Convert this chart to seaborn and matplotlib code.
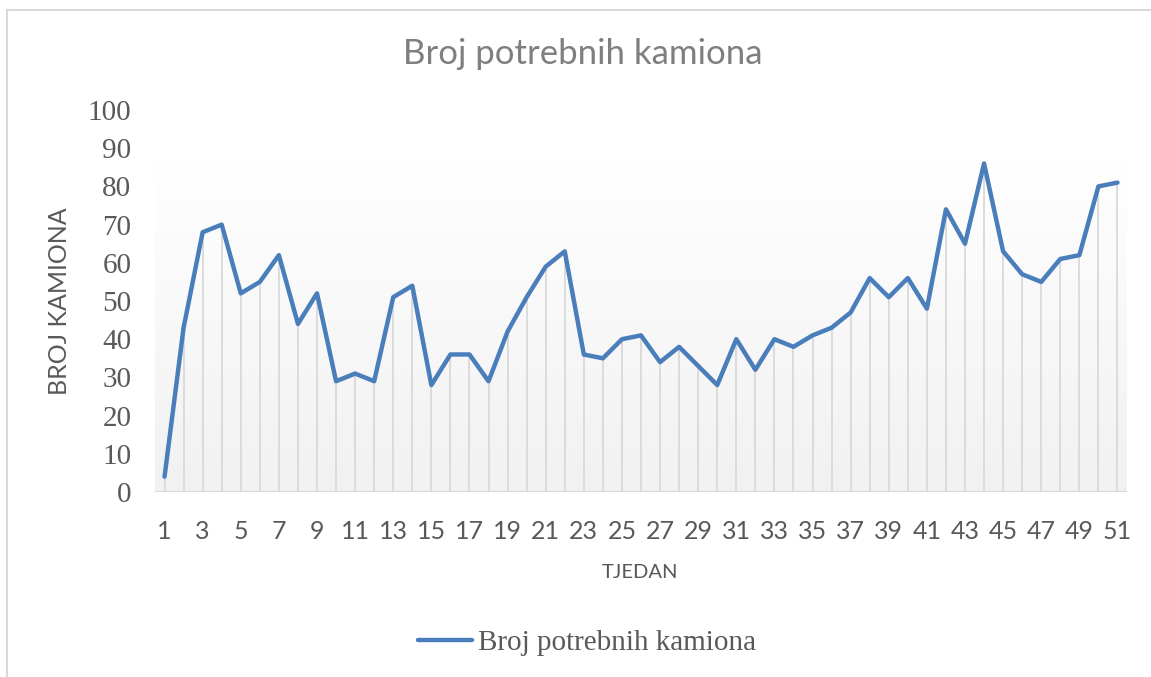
import numpy as np
import pandas as pd
import seaborn as sns
import matplotlib.pyplot as plt
from matplotlib.colors import LinearSegmentedColormap
from matplotlib.lines import Line2D

# data
weeks = list(range(1, 52))
trucks = [4, 43, 68, 70, 52, 55, 62, 44, 52, 29, 31, 29, 51, 54, 28, 36, 36, 29, 42, 51,
          59, 63, 36, 35, 40, 41, 34, 38, 33, 28, 40, 32, 40, 38, 41, 43, 47, 56, 51, 56,
          48, 74, 65, 86, 63, 57, 55, 61, 62, 80, 81]
y_ticks = list(range(0, 101, 10))
x_ticklabels = [str(w) for w in weeks if w % 2 == 1]

df = pd.DataFrame({"TJEDAN": weeks, "Broj potrebnih kamiona": trucks})

sns.set_theme(style="white")
plt.rcParams['font.family'] = ['Lato', 'DejaVu Sans']

W, H = 1151, 677
fig = plt.figure(figsize=(W / 100, H / 100), dpi=100)
ax = fig.add_axes([155 / W, 1 - 492 / H, (1127 - 155) / W, (492 - 110) / H])
ax.set_facecolor("none")

# plot area gradient (Excel style), stops below the top tick
grad = np.linspace(1, 0, 256).reshape(-1, 1)
cmap = LinearSegmentedColormap.from_list("g", ["#f1f1f1", "#ffffff"])
ax.imshow(grad, extent=[0.5, 51.5, 0, 87], aspect="auto", cmap=cmap,
          origin="upper", zorder=0, interpolation="bilinear")

# drop lines
ax.vlines(df["TJEDAN"], 0, df["Broj potrebnih kamiona"], color="#d9d9d9", lw=1.3, zorder=1)

sns.lineplot(data=df, x="TJEDAN", y="Broj potrebnih kamiona", ax=ax,
             color="#4a7ebb", lw=3.2, zorder=3, legend=False)

ax.axhline(0, color="#d9d9d9", lw=1.6, zorder=2)

ax.set_xlim(0.5, 51.5)
ax.set_ylim(0, 100)
ax.set_yticks(y_ticks)
ax.set_yticklabels([str(v) for v in y_ticks], family="Liberation Serif", fontsize=21, color="#595959")
ax.set_xticks([w for w in weeks if w % 2 == 1])
ax.set_xticklabels(x_ticklabels, fontsize=18, color="#595959")
ax.tick_params(axis="y", length=0, pad=17)
ax.tick_params(axis="x", length=0, pad=20)
for s in ax.spines.values():
    s.set_visible(False)

ax.set_xlabel("")
ax.set_ylabel("")
fig.text(60 / W, 1 - 301 / H, "BROJ KAMIONA", rotation=90, ha="center", va="center",
         fontsize=18, color="#595959")
fig.text(640 / W, 1 - 572 / H, "TJEDAN", ha="center", va="center", fontsize=14.5, color="#595959")
fig.text(583 / W, 1 - 54 / H, "Broj potrebnih kamiona", ha="center", va="center",
         fontsize=25, color="#7f7f7f")

# legend
handle = Line2D([], [], color="#4a7ebb", lw=3.2)
fig.legend([handle], ["Broj potrebnih kamiona"], loc="center", bbox_to_anchor=(587 / W, 1 - 643 / H),
           frameon=False, handlelength=1.85, handletextpad=0.2,
           prop={"family": "Liberation Serif", "size": 21}, labelcolor="#595959")

# outer chart border
fig.add_artist(Line2D([7 / W, 7 / W], [0, 1 - 10 / H], color="#d9d9d9", lw=1.5, transform=fig.transFigure))
fig.add_artist(Line2D([7 / W, 1], [1 - 10 / H, 1 - 10 / H], color="#d9d9d9", lw=1.5, transform=fig.transFigure))

fig.savefig("out.png", dpi=100)
